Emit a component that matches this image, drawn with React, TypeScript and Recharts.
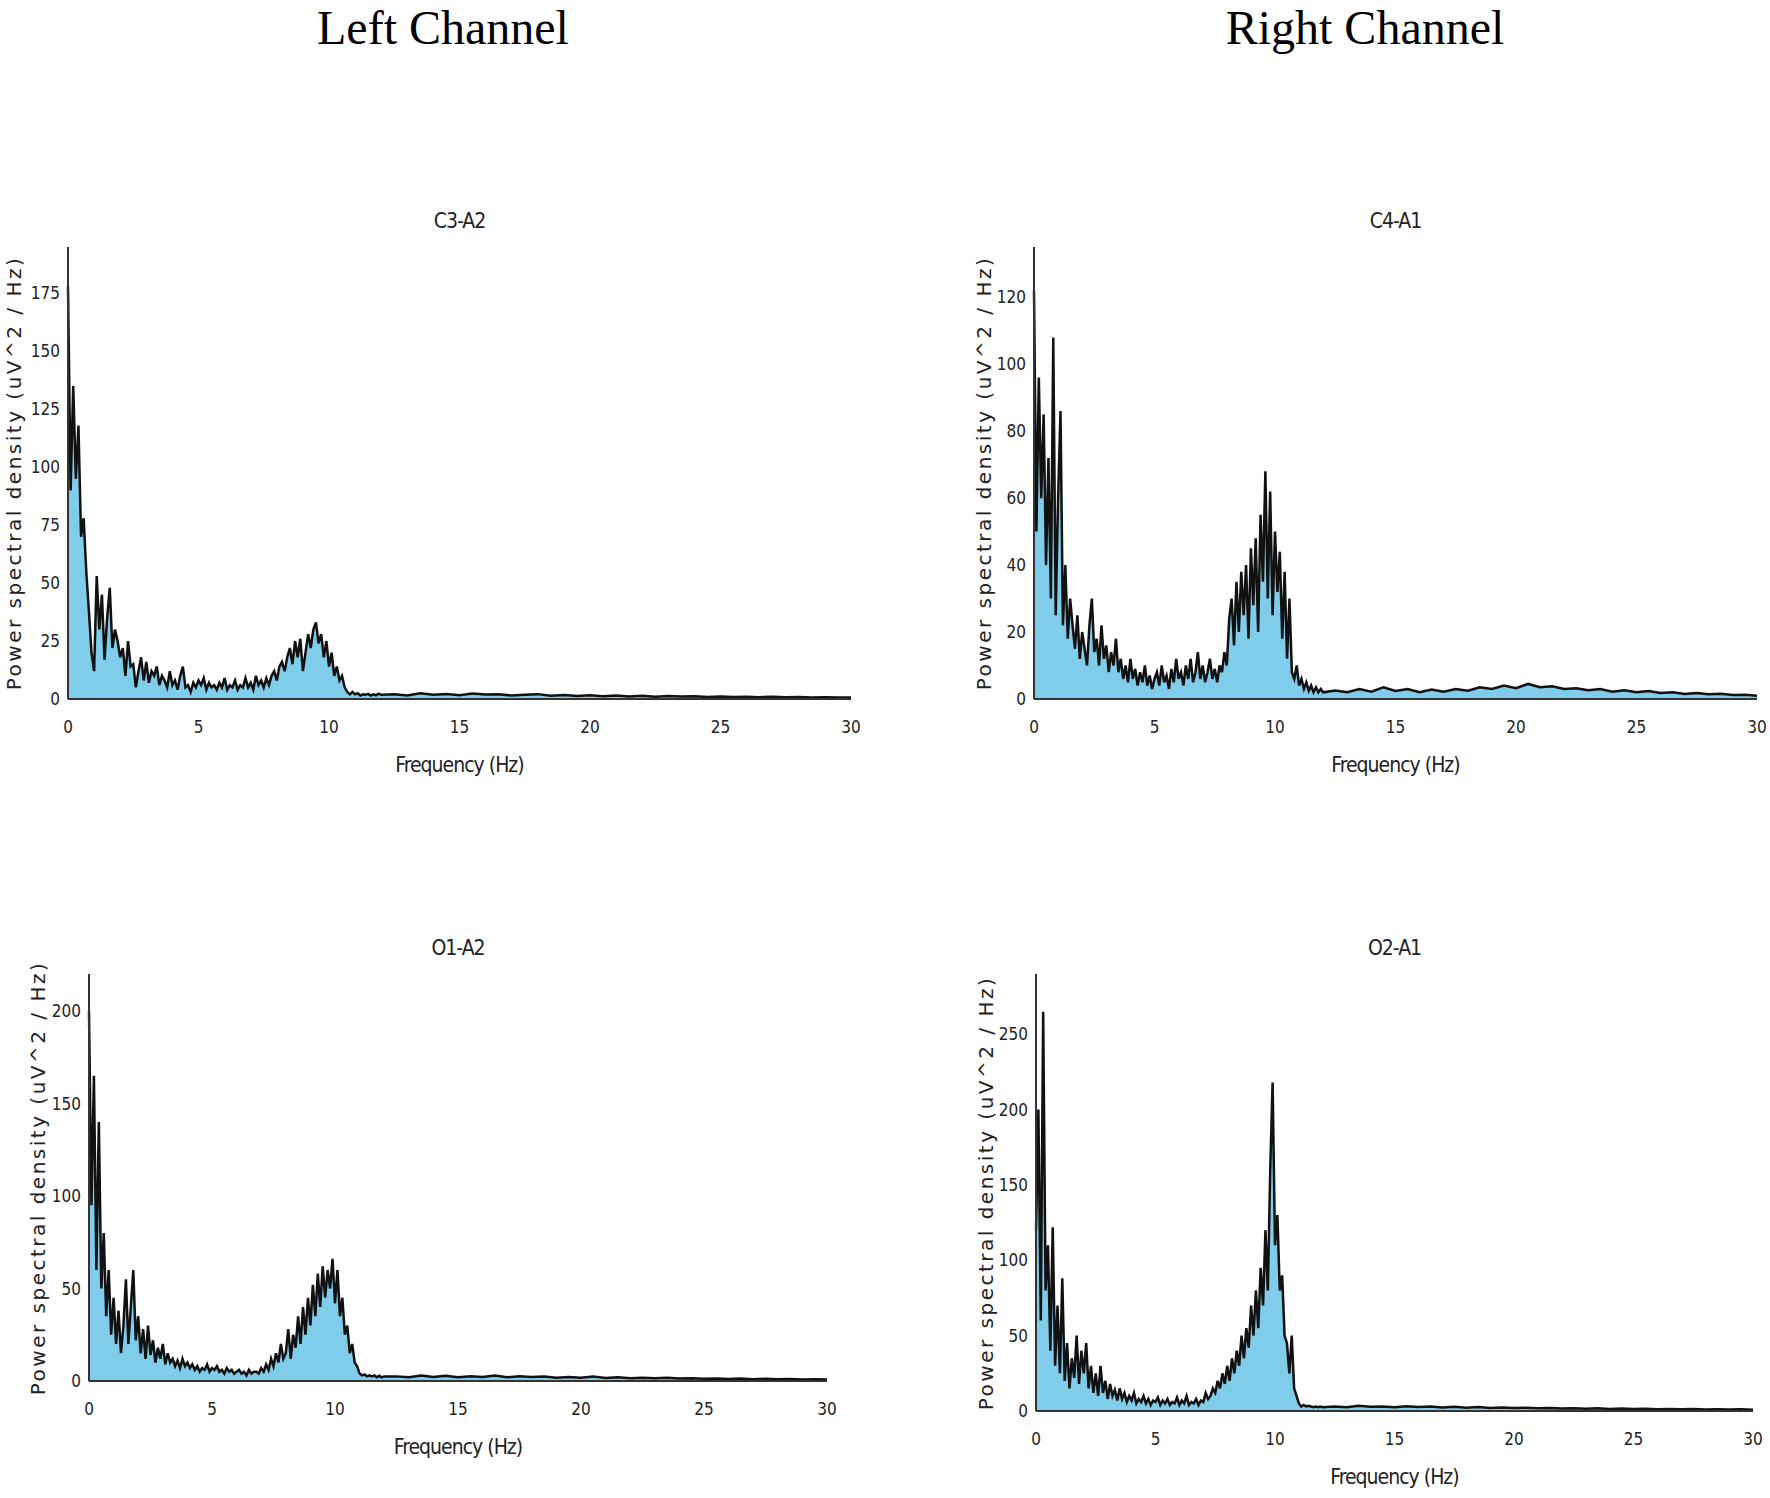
import React from "react";
import { AreaChart, Area, XAxis, YAxis } from "recharts";

// PSD values, 0.0–12.0 Hz in 0.1 Hz steps, then 12.5–30 Hz in 0.5 Hz steps
const c3Low = [
  178, 90, 135, 95, 118, 70, 78, 55, 38, 20,
  12, 53, 30, 45, 17, 35, 48, 22, 30, 25,
  18, 22, 10, 25, 14, 15, 5, 12, 18, 8,
  16, 7, 12, 10, 14, 6, 10, 8, 5, 12,
  6, 8, 4, 10, 14, 5, 6, 3, 7, 5,
  8, 6, 9, 4, 7, 5, 6, 4, 7, 5,
  9, 4, 6, 5, 8, 4, 6, 5, 9, 5,
  7, 4, 10, 6, 8, 5, 9, 6, 10, 12,
  8, 14, 16, 12, 18, 22, 15, 25, 18, 26,
  12, 20, 28, 22, 30, 33, 24, 28, 18, 25,
  14, 20, 10, 14, 8, 10, 5, 3, 2, 3,
  2, 2.5, 1.5, 2, 1.8, 2.2, 1.5, 2, 1.6, 2.3,
  1.8,
];
const c3Tail = [2, 1.5, 2.5, 1.8, 2.2, 1.6, 2.4, 1.9, 2, 1.5, 1.8, 2.1, 1.4, 1.7, 1.3, 1.6, 1.2, 1.5, 1.1, 1.4, 1.0, 1.3, 1.1, 1.2, 0.9, 1.1, 0.9, 1.0, 0.8, 1.0, 0.8, 0.9, 0.7, 0.8, 0.6, 0.7];

const c4Low = [
  122, 50, 96, 60, 85, 40, 72, 30, 108, 25,
  60, 86, 22, 40, 18, 30, 22, 15, 25, 12,
  20, 15, 10, 22, 30, 14, 18, 10, 22, 12,
  16, 8, 14, 10, 18, 8, 12, 6, 10, 5,
  12, 6, 9, 4, 8, 5, 10, 4, 7, 3,
  6, 8, 4, 10, 5, 7, 3, 9, 5, 12,
  6, 8, 4, 10, 6, 12, 5, 8, 14, 6,
  10, 5, 8, 12, 6, 9, 5, 10, 8, 14,
  10, 24, 30, 16, 35, 20, 38, 25, 40, 18,
  45, 28, 48, 20, 55, 35, 68, 30, 62, 25,
  50, 32, 44, 18, 38, 12, 30, 8, 6, 10,
  4, 6, 3, 5, 2.5, 4, 2, 3.5, 2, 3,
  2,
];
const c4Tail = [2.5, 2, 3, 2.2, 3.5, 2.4, 3, 2, 2.8, 2.2, 3, 2.5, 3.5, 3, 4, 3.2, 4.5, 3.5, 3.8, 3, 3.2, 2.6, 3, 2.2, 2.6, 2, 2.4, 1.8, 2, 1.5, 1.8, 1.4, 1.6, 1.2, 1.3, 1.0];

const o1Low = [
  200, 95, 165, 60, 140, 50, 80, 35, 60, 25,
  45, 20, 38, 15, 30, 55, 20, 40, 60, 22,
  35, 15, 28, 12, 30, 14, 22, 10, 18, 12,
  20, 9, 15, 10, 12, 8, 11, 7, 12, 8,
  10, 7, 9, 6, 8, 5, 7, 6, 9, 5,
  7, 6, 8, 5, 6, 4, 7, 5, 6, 4,
  5, 6, 4, 5, 3, 6, 4, 5, 5, 4,
  7, 5, 9, 6, 12, 8, 15, 10, 20, 12,
  15, 28, 12, 25, 18, 35, 20, 40, 25, 45,
  30, 52, 35, 58, 40, 62, 45, 60, 50, 66,
  42, 60, 35, 45, 25, 30, 15, 20, 10, 8,
  4, 3, 3.5, 2.5, 3, 2.5, 3, 2, 2.8, 2,
  2.5,
];
const o1Tail = [2.5, 2, 3, 2.2, 2.8, 2, 2.5, 2.2, 3, 2, 2.6, 2.2, 2.4, 1.8, 2.2, 1.8, 2.4, 1.6, 2, 1.5, 1.8, 1.5, 1.7, 1.3, 1.5, 1.2, 1.4, 1.1, 1.3, 1, 1.2, 0.9, 1.1, 0.8, 1, 0.8];

const o2Low = [
  120, 200, 60, 265, 80, 110, 40, 122, 30, 70,
  25, 88, 20, 45, 15, 35, 22, 50, 18, 40,
  25, 45, 15, 30, 12, 25, 10, 30, 12, 20,
  8, 18, 10, 14, 7, 15, 8, 12, 6, 10,
  7, 12, 5, 8, 6, 10, 5, 8, 4, 7,
  6, 9, 4, 7, 5, 8, 4, 6, 5, 9,
  4, 7, 5, 10, 4, 6, 5, 8, 4, 7,
  6, 12, 8, 10, 15, 12, 20, 15, 25, 18,
  30, 20, 35, 25, 40, 30, 50, 35, 55, 42,
  70, 50, 80, 55, 95, 70, 120, 80, 160, 218,
  110, 130, 80, 90, 50, 45, 25, 50, 15, 10,
  5, 3, 4, 3, 3.5, 3, 2.5, 3, 2.5, 3,
  2.5,
];
const o2Tail = [3, 2.5, 3.5, 2.8, 3, 2.5, 3.2, 2.6, 3, 2.4, 2.8, 2.2, 2.6, 2, 2.4, 2, 2.2, 1.8, 2, 1.6, 1.9, 1.5, 1.8, 1.4, 1.6, 1.3, 1.5, 1.2, 1.4, 1.1, 1.3, 1, 1.2, 1, 1.1, 0.9];

const xTicks = [0, 5, 10, 15, 20, 25, 30];

function buildRows(low: number[], tail: number[]) {
  const rows = low.map((v, i) => ({ f: i / 10, v }));
  tail.forEach((v, i) => rows.push({ f: 12.5 + i * 0.5, v }));
  return rows;
}

const LM = 60;
const TM = 5;
const RM = 15;
const BM = 80;
const tickFont = { fontSize: 17, fill: "#222", fontFamily: "'DejaVu Sans Condensed', 'Liberation Sans Narrow', sans-serif" };
const labelFont = { fontFamily: "'DejaVu Sans Condensed', 'Liberation Sans Narrow', sans-serif", fontSize: 21, color: "#222", letterSpacing: -1 };

interface PanelProps {
  title: string;
  low: number[];
  tail: number[];
  yMax: number;
  yTicks: number[];
  left: number;
  right: number;
  top: number;
  bottom: number;
  yLabelX: number;
}

function Panel({ title, low, tail, yMax, yTicks, left, right, top, bottom, yLabelX }: PanelProps) {
  const data = buildRows(low, tail);
  const pw = right - left;
  const ph = bottom - top;
  const cx = (left + right) / 2;
  return (
    <>
      <div style={{ position: "absolute", left: cx - 100, width: 200, top: top - 38, textAlign: "center", ...labelFont }}>{title}</div>
      <div style={{ position: "absolute", left: left - LM, top: top - TM }}>
        <AreaChart width={pw + LM + RM} height={ph + TM + BM} data={data} margin={{ top: TM, right: RM, bottom: 0, left: 0 }}>
          <XAxis dataKey="f" type="number" domain={[0, 30]} ticks={xTicks} tickLine={false} axisLine={{ stroke: "#333", strokeWidth: 2 }} tick={tickFont} height={BM} tickMargin={16} />
          <YAxis type="number" domain={[0, yMax]} ticks={yTicks} tickLine={false} axisLine={{ stroke: "#333", strokeWidth: 2 }} tick={tickFont} width={LM} allowDataOverflow />
          <Area type="linear" dataKey="v" stroke="#111" strokeWidth={2.5} fill="#7fcdea" fillOpacity={1} isAnimationActive={false} dot={false} />
        </AreaChart>
      </div>
      <div style={{ position: "absolute", left: cx - 100, width: 200, top: bottom + 54, textAlign: "center", ...labelFont }}>Frequency (Hz)</div>
      <div style={{ position: "absolute", left: yLabelX + 10, top: (top + bottom) / 2, width: 0, height: 0 }}>
        <div style={{ position: "absolute", left: 0, top: 0, transform: "translate(-50%, -50%) rotate(-90deg)", whiteSpace: "nowrap", fontFamily: "'DejaVu Sans', sans-serif", fontSize: 20, letterSpacing: 2.5, color: "#222" }}>
          Power spectral density (uV^2 / Hz)
        </div>
      </div>
    </>
  );
}

export default function App() {
  return (
    <div style={{ position: "absolute", left: 0, top: 0, width: 1770, height: 1498, background: "#fff" }}>
      <div style={{ position: "absolute", left: 243, width: 400, top: 0, textAlign: "center", fontFamily: "'Liberation Serif', serif", fontSize: 48 }}>Left Channel</div>
      <div style={{ position: "absolute", left: 1165, width: 400, top: 0, textAlign: "center", fontFamily: "'Liberation Serif', serif", fontSize: 48 }}>Right Channel</div>
      <Panel title="C3-A2" low={c3Low} tail={c3Tail} yMax={195} yTicks={[0, 25, 50, 75, 100, 125, 150, 175]} left={68} right={851} top={247} bottom={699} yLabelX={4} />
      <Panel title="C4-A1" low={c4Low} tail={c4Tail} yMax={135} yTicks={[0, 20, 40, 60, 80, 100, 120]} left={1034} right={1757} top={247} bottom={699} yLabelX={974} />
      <Panel title="O1-A2" low={o1Low} tail={o1Tail} yMax={220} yTicks={[0, 50, 100, 150, 200]} left={89} right={827} top={974} bottom={1381} yLabelX={28} />
      <Panel title="O2-A1" low={o2Low} tail={o2Tail} yMax={290} yTicks={[0, 50, 100, 150, 200, 250]} left={1036} right={1753} top={974} bottom={1411} yLabelX={976} />
    </div>
  );
}
